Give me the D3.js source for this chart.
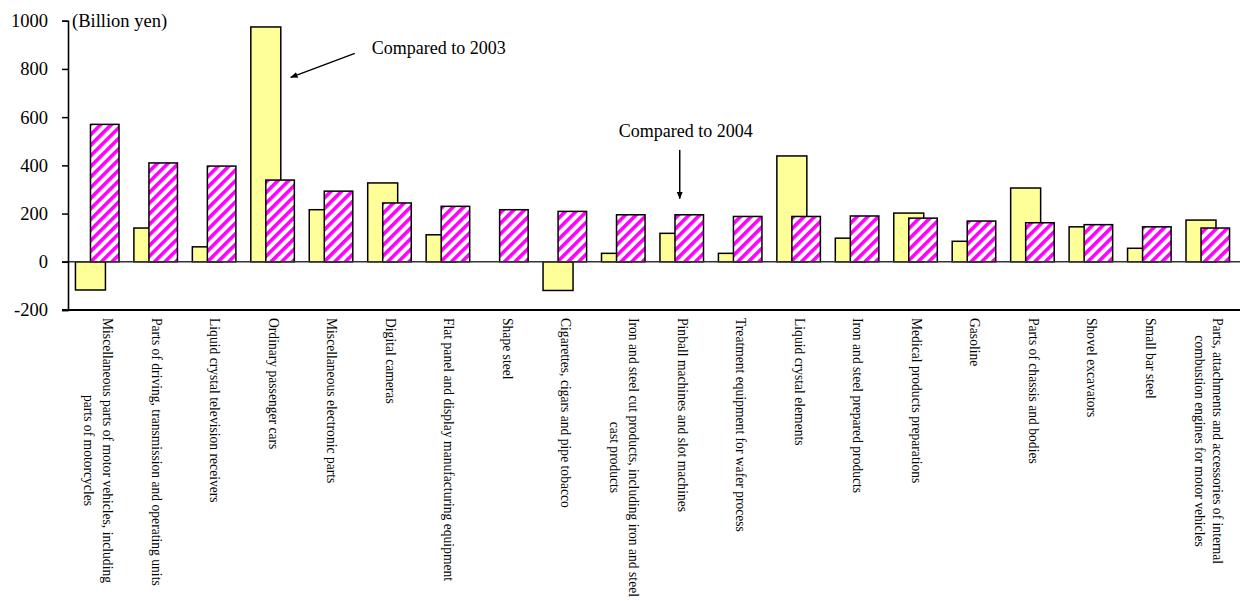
<!DOCTYPE html>
<html>
<head>
<meta charset="utf-8">
<script src="https://cdn.jsdelivr.net/npm/d3@7"></script>
<style>
  html, body { margin: 0; padding: 0; background: #fff; }
  svg { display: block; }
  text { font-family: "Liberation Serif", "DejaVu Serif", "Times New Roman", serif; fill: #000; }
</style>
</head>
<body>
<svg id="chart" width="1240" height="601"></svg>
<script>
const categories = [
  "Miscellaneous parts of motor vehicles, including\nparts of motorcycles",
  "Parts of driving, transmission and operating units",
  "Liquid crystal television receivers",
  "Ordinary passenger cars",
  "Miscellaneous electronic parts",
  "Digital cameras",
  "Flat panel and display manufacturing equipment",
  "Shape steel",
  "Cigarettes, cigars and pipe tobacco",
  "Iron and steel cut products, including iron and steel\ncast products",
  "Pinball machines and slot machines",
  "Treatment equipment for wafer process",
  "Liquid crystal elements",
  "Iron and steel prepared products",
  "Medical products preparations",
  "Gasoline",
  "Parts of chassis and bodies",
  "Shovel excavators",
  "Small bar steel",
  "Parts, attachments and accessories of internal\ncombustion engines for motor vehicles"
];
// Change compared to 2003 (yellow)
const vs2003 = [-117, 140, 62, 974, 216, 327, 112, 0, -119, 35, 118, 35, 439, 98, 202, 85, 306, 145, 56, 173];
// Change compared to 2004 (striped)
const vs2004 = [570, 410, 397, 339, 293, 244, 230, 216, 209, 195, 195, 188, 188, 190, 181, 169, 162, 154, 145, 140];
const yTicks = [-200, 0, 200, 400, 600, 800, 1000];
const unitLabel = "(Billion yen)";
const note2003 = "Compared to 2003";
const note2004 = "Compared to 2004";

const svg = d3.select("#chart");
const mLeft = 68, mRight = 1237, mTop = 20.7, mBottom = 310;

const x = d3.scaleBand().domain(categories).range([mLeft, mRight]).padding(0);
const y = d3.scaleLinear().domain([-200, 1000]).range([mBottom, mTop]);
const bw = x.bandwidth();
const gw = bw * 0.745;
const yw = bw * 0.513;
const pw = bw * 0.488;
const gx = c => x(c) + (bw - gw) / 2;

const defs = svg.append("defs");
const pat = defs.append("pattern")
  .attr("id", "stripe")
  .attr("patternUnits", "userSpaceOnUse")
  .attr("width", 7.5).attr("height", 7.5)
  .attr("patternTransform", "rotate(45)");
pat.append("rect").attr("width", 7.5).attr("height", 7.5).attr("fill", "#fff");
pat.append("rect").attr("width", 3.6).attr("height", 7.5).attr("fill", "#ff00ff");

defs.append("marker")
  .attr("id", "arrow")
  .attr("viewBox", "0 0 10 10")
  .attr("refX", 9).attr("refY", 5)
  .attr("markerWidth", 5).attr("markerHeight", 5)
  .attr("markerUnits", "strokeWidth")
  .attr("orient", "auto")
  .append("path").attr("d", "M0,1 L10,5 L0,9 Z").attr("fill", "#000");

// Yellow bars (behind)
svg.append("g").selectAll("rect")
  .data(categories.map((c, i) => ({c, v: vs2003[i]})).filter(d => d.v !== 0))
  .join("rect")
  .attr("x", d => gx(d.c))
  .attr("width", yw)
  .attr("y", d => y(Math.max(0, d.v)))
  .attr("height", d => Math.abs(y(d.v) - y(0)))
  .attr("fill", "#ffff99")
  .attr("stroke", "#000")
  .attr("stroke-width", 1.5);

// Striped bars (front)
svg.append("g").selectAll("rect")
  .data(categories.map((c, i) => ({c, v: vs2004[i]})))
  .join("rect")
  .attr("x", d => gx(d.c) + gw - pw)
  .attr("width", pw)
  .attr("y", d => y(Math.max(0, d.v)))
  .attr("height", d => Math.abs(y(d.v) - y(0)))
  .attr("fill", "url(#stripe)")
  .attr("stroke", "#000")
  .attr("stroke-width", 1.5);

// Zero line
svg.append("line")
  .attr("x1", mLeft - 6).attr("x2", 1240)
  .attr("y1", y(0)).attr("y2", y(0))
  .attr("stroke", "#333").attr("stroke-width", 1.5);

// Y axis
const yAxis = svg.append("g")
  .attr("transform", `translate(${mLeft},0)`)
  .attr("font-family", null)
  .call(d3.axisLeft(y).tickValues(yTicks).tickSize(6).tickPadding(14).tickFormat(d => String(d)));
yAxis.attr("font-family", '"Liberation Serif", "DejaVu Serif", serif');
yAxis.select(".domain").attr("stroke", "#000").attr("stroke-width", 1.6);
yAxis.selectAll(".tick line").attr("stroke", "#000").attr("stroke-width", 1.5);
yAxis.selectAll(".tick text")
  .style("font-family", '"Liberation Serif", "DejaVu Serif", serif')
  .style("font-size", "18.5px").attr("fill", "#000");

// Bottom axis line
svg.append("line")
  .attr("x1", mLeft - 6).attr("x2", 1240)
  .attr("y1", mBottom).attr("y2", mBottom)
  .attr("stroke", "#000").attr("stroke-width", 2);

// Unit label
svg.append("text")
  .attr("x", mLeft + 4).attr("y", y(1000)).attr("dy", "0.32em")
  .style("font-size", "18.5px")
  .text(unitLabel);

// Category labels (vertical)
const lineH = 18.3;
const labelG = svg.append("g");
categories.forEach(c => {
  const lines = c.split("\n");
  const cx = x(c) + bw / 2 + 1;
  const g = labelG.append("g").attr("transform", `translate(${cx},${mBottom + 8}) rotate(90)`);
  const ts = lines.map((ln, i) => g.append("text")
    .attr("x", 0)
    .attr("y", (i - (lines.length - 1) / 2) * lineH)
    .attr("dy", "0.35em")
    .style("font-size", "13.6px")
    .text(ln));
  const lens = ts.map(t => t.node().getComputedTextLength());
  const mx = d3.max(lens);
  ts.forEach((t, i) => t.attr("x", (mx - lens[i]) / 2));
});

// Annotation: Compared to 2003 -> yellow bar of Ordinary passenger cars
const c3 = categories[3];
const tip1 = [gx(c3) + yw + 10, y(765)];
svg.append("line")
  .attr("x1", tip1[0] + 64).attr("y1", tip1[1] - 24)
  .attr("x2", tip1[0]).attr("y2", tip1[1])
  .attr("stroke", "#000").attr("stroke-width", 1.5)
  .attr("marker-end", "url(#arrow)");
svg.append("text")
  .attr("x", tip1[0] + 81).attr("y", tip1[1] - 23)
  .style("font-size", "18px")
  .text(note2003);

// Annotation: Compared to 2004 -> striped bar of Pinball machines
const c10 = categories[10];
const ax2 = gx(c10) + gw / 2 - 2;
svg.append("line")
  .attr("x1", ax2).attr("y1", y(464))
  .attr("x2", ax2).attr("y2", y(262))
  .attr("stroke", "#000").attr("stroke-width", 1.5)
  .attr("marker-end", "url(#arrow)");
svg.append("text")
  .attr("x", ax2 + 6).attr("y", y(518))
  .attr("text-anchor", "middle")
  .style("font-size", "18px")
  .text(note2004);
</script>
</body>
</html>
